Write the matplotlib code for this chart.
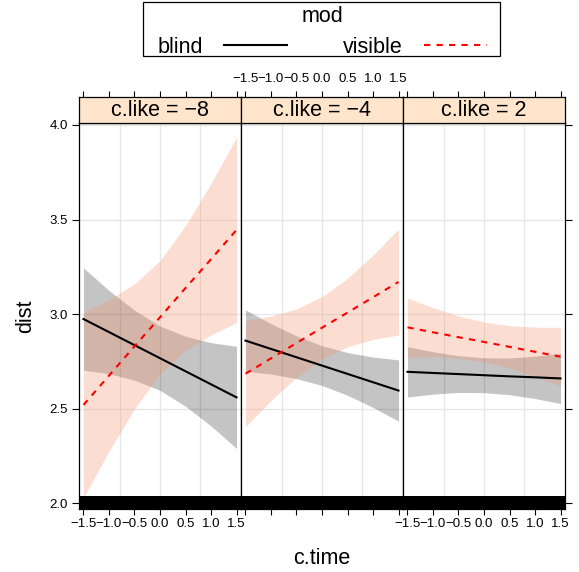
import matplotlib
matplotlib.use("Agg")
import matplotlib.pyplot as plt
from matplotlib.lines import Line2D
from matplotlib.patches import Rectangle

plt.rcParams['font.family'] = ['Liberation Sans', 'DejaVu Sans']
plt.rcParams['axes.unicode_minus'] = True

# ---------------- data ----------------
panel_labels = ["c.like = \u22128", "c.like = \u22124", "c.like = 2"]
time_x = [-1.5, -1.0, -0.5, 0.0, 0.5, 1.0, 1.5]

blind_fit = [
    [2.974, 2.905, 2.836, 2.767, 2.698, 2.629, 2.560],
    [2.860, 2.816, 2.772, 2.728, 2.684, 2.640, 2.596],
    [2.695, 2.689, 2.683, 2.677, 2.671, 2.666, 2.660],
]
blind_upper = [
    [3.244, 3.125, 3.021, 2.937, 2.883, 2.849, 2.830],
    [3.022, 2.949, 2.885, 2.833, 2.797, 2.773, 2.758],
    [2.828, 2.801, 2.780, 2.769, 2.768, 2.778, 2.793],
]
blind_lower = [
    [2.704, 2.685, 2.651, 2.597, 2.513, 2.409, 2.290],
    [2.698, 2.683, 2.659, 2.623, 2.571, 2.507, 2.434],
    [2.562, 2.577, 2.586, 2.585, 2.574, 2.554, 2.527],
]
visible_fit = [
    [2.520, 2.675, 2.830, 2.983, 3.138, 3.290, 3.445],
    [2.685, 2.766, 2.847, 2.928, 3.008, 3.089, 3.170],
    [2.930, 2.904, 2.878, 2.853, 2.827, 2.801, 2.775],
]
visible_upper = [
    [3.010, 3.075, 3.160, 3.283, 3.468, 3.690, 3.935],
    [2.965, 2.989, 3.028, 3.092, 3.189, 3.312, 3.450],
    [3.085, 3.034, 2.990, 2.958, 2.939, 2.931, 2.930],
]
visible_lower = [
    [2.030, 2.275, 2.500, 2.683, 2.808, 2.890, 2.955],
    [2.405, 2.543, 2.666, 2.764, 2.827, 2.866, 2.890],
    [2.775, 2.775, 2.766, 2.748, 2.715, 2.672, 2.620],
]

x_ticks = [-1.5, -1.0, -0.5, 0.0, 0.5, 1.0, 1.5]
x_ticklabels = ["\u22121.5", "\u22121.0", "\u22120.5", "0.0", "0.5", "1.0", "1.5"]
y_ticks = [2.0, 2.5, 3.0, 3.5, 4.0]
y_ticklabels = ["2.0", "2.5", "3.0", "3.5", "4.0"]
x_grid = [-0.79, 0.0, 0.79]

legend_labels = ["blind", "visible"]
legend_title = "mod"

# ---------------- layout ----------------
W, H = 579, 572
fig = plt.figure(figsize=(W / 100, H / 100), dpi=100)

panel_left_px = [79, 241, 403]
panel_w_px = 162
panel_top_px, panel_bot_px = 123, 509
strip_top_px = 97

xlim = (-1.588, 1.588)
ylim = (1.97, 4.01)

blind_band_col = (0, 0, 0, 0.23)
vis_band_col = (0.961, 0.569, 0.424, 0.30)
tick_fs = 9.5
big_fs = 15.5

for i in range(3):
    l = panel_left_px[i] / W
    b = 1 - panel_bot_px / H
    w = panel_w_px / W
    h = (panel_bot_px - panel_top_px) / H
    ax = fig.add_axes([l, b, w, h])
    sax = fig.add_axes([l, 1 - panel_top_px / H, w, (panel_top_px - strip_top_px) / H])

    for gx in x_grid:
        ax.axvline(gx, color='#e6e6e6', lw=0.9, zorder=0)
    for gy in y_ticks:
        ax.axhline(gy, color='#e6e6e6', lw=0.9, zorder=0)

    ax.fill_between(time_x, blind_lower[i], blind_upper[i], color=blind_band_col,
                    lw=0, zorder=1)
    ax.fill_between(time_x, visible_lower[i], visible_upper[i], color=vis_band_col,
                    lw=0, zorder=2)
    ax.plot(time_x, blind_fit[i], color='black', lw=1.5, zorder=3)
    ax.plot(time_x, visible_fit[i], color='#ff0000', lw=1.5, ls=(0, (3, 3)), zorder=3)

    # rug-like black band at bottom
    ax.fill_between([0, 1], [0, 0], [0.034, 0.034], transform=ax.transAxes,
                    color='black', lw=0, zorder=4)

    ax.set_xlim(xlim)
    ax.set_ylim(ylim)
    for sp in ax.spines.values():
        sp.set_linewidth(0.9)
        sp.set_zorder(5)

    ax.set_xticks(x_ticks)
    ax.set_yticks(y_ticks)
    ax.tick_params(axis='x', direction='out', length=4.3, width=0.8, pad=2.0,
                   labelsize=tick_fs, top=False)
    if i == 1:
        ax.set_xticklabels([])
    else:
        ax.set_xticklabels(x_ticklabels)
    ax.tick_params(axis='y', direction='out', length=5, width=0.8, pad=3,
                   labelsize=tick_fs)
    if i == 0:
        ax.set_yticklabels(y_ticklabels)
        ax.tick_params(axis='y', left=True, right=False)
    elif i == 2:
        ax.yaxis.tick_right()
        ax.set_yticklabels([])
    else:
        ax.tick_params(axis='y', left=False, right=False, labelleft=False)

    # strip
    sax.set_facecolor('#ffe5cc')
    sax.set_xlim(xlim)
    sax.set_ylim(0, 1)
    sax.set_yticks([])
    sax.xaxis.tick_top()
    sax.set_xticks(x_ticks)
    sax.tick_params(axis='x', direction='out', length=4.3, width=0.8, pad=4.5,
                    labelsize=tick_fs, bottom=False)
    if i == 1:
        sax.set_xticklabels(x_ticklabels)
    else:
        sax.set_xticklabels([])
    for sp in sax.spines.values():
        sp.set_linewidth(0.9)
    sax.text(0.5, 0.5, panel_labels[i], transform=sax.transAxes, ha='center',
             va='center', fontsize=big_fs)

# axis labels
fig.text(26 / W, 1 - 316 / H, "dist", rotation=90, ha='center', va='center',
         fontsize=big_fs)
fig.text(322 / W, 1 - 558 / H, "c.time", ha='center', va='center', fontsize=big_fs)

# legend
handles = [Line2D([], [], color='black', lw=1.5),
           Line2D([], [], color='#ff0000', lw=1.5, ls=(0, (3, 3)))]
leg = fig.legend(handles, legend_labels, title=legend_title, ncol=2,
                 loc='upper center', bbox_to_anchor=(322 / W, 1 - 2 / H),
                 frameon=False, fontsize=big_fs, title_fontsize=big_fs,
                 markerfirst=False, handlelength=2.9, handletextpad=1.0,
                 columnspacing=2.6, borderpad=0.2, labelspacing=0.45,
                 borderaxespad=0)
fig.add_artist(Rectangle((143 / W, 1 - 56 / H), (500 - 143) / W, 54 / H,
                         transform=fig.transFigure, fill=False,
                         edgecolor='black', lw=0.9))

fig.savefig("out.png", dpi=100)
